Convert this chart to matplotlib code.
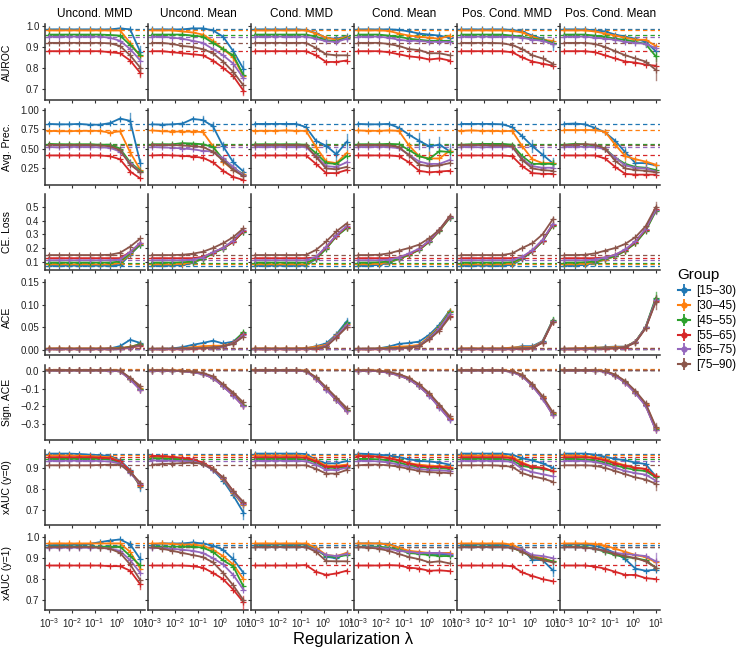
import matplotlib.pyplot as plt
from matplotlib.lines import Line2D
from matplotlib.ticker import NullLocator

plt.rcParams['font.family'] = ['Liberation Sans', 'DejaVu Sans']

lam = [0.001, 0.00278, 0.00774, 0.0215, 0.0599, 0.167, 0.464, 1.29, 3.59, 10.0]
methods = ['Uncond. MMD', 'Uncond. Mean', 'Cond. MMD', 'Cond. Mean', 'Pos. Cond. MMD', 'Pos. Cond. Mean']
groups = ['[15\u201330)', '[30\u201345)', '[45\u201355)', '[55\u201365)', '[65\u201375)', '[75\u201390)']
colors = ['#1f77b4', '#ff7f0e', '#2ca02c', '#d62728', '#9467bd', '#8c564b']
metric_labels = ['AUROC', 'Avg. Prec.', 'CE. Loss', 'ACE', 'Sign. ACE', 'xAUC (y=0)', 'xAUC (y=1)']

# order of groups in every panel: blue, orange, green, red, purple, brown
auroc = [
    [[0.985, 0.985, 0.985, 0.985, 0.985, 0.985, 0.985, 0.99, 0.985, 0.876],
     [0.98, 0.98, 0.98, 0.98, 0.98, 0.98, 0.98, 0.98, 0.92, 0.855],
     [0.96, 0.96, 0.96, 0.96, 0.96, 0.96, 0.958, 0.955, 0.91, 0.86],
     [0.88, 0.88, 0.88, 0.88, 0.88, 0.88, 0.875, 0.87, 0.835, 0.775],
     [0.95, 0.95, 0.95, 0.95, 0.95, 0.95, 0.945, 0.93, 0.89, 0.835],
     [0.92, 0.92, 0.92, 0.92, 0.92, 0.92, 0.918, 0.905, 0.86, 0.80]],
    [[0.985, 0.985, 0.985, 0.985, 0.99, 0.99, 0.98, 0.95, 0.88, 0.795],
     [0.98, 0.98, 0.98, 0.975, 0.97, 0.96, 0.93, 0.89, 0.85, 0.76],
     [0.96, 0.96, 0.96, 0.96, 0.955, 0.95, 0.92, 0.89, 0.86, 0.765],
     [0.88, 0.88, 0.875, 0.87, 0.865, 0.86, 0.835, 0.80, 0.76, 0.69],
     [0.95, 0.95, 0.945, 0.94, 0.93, 0.92, 0.89, 0.86, 0.82, 0.75],
     [0.92, 0.92, 0.915, 0.905, 0.90, 0.89, 0.87, 0.83, 0.78, 0.715]],
    [[0.985, 0.985, 0.985, 0.985, 0.985, 0.983, 0.967, 0.944, 0.94, 0.952],
     [0.98, 0.98, 0.98, 0.98, 0.98, 0.98, 0.965, 0.945, 0.935, 0.95],
     [0.96, 0.96, 0.96, 0.96, 0.96, 0.96, 0.95, 0.932, 0.928, 0.945],
     [0.88, 0.88, 0.88, 0.88, 0.88, 0.88, 0.86, 0.828, 0.828, 0.835],
     [0.95, 0.95, 0.95, 0.95, 0.95, 0.95, 0.94, 0.928, 0.924, 0.94],
     [0.92, 0.92, 0.92, 0.92, 0.92, 0.92, 0.895, 0.865, 0.86, 0.86]],
    [[0.985, 0.985, 0.985, 0.985, 0.983, 0.975, 0.965, 0.96, 0.955, 0.945],
     [0.98, 0.98, 0.98, 0.978, 0.965, 0.955, 0.95, 0.945, 0.94, 0.955],
     [0.96, 0.96, 0.96, 0.955, 0.95, 0.94, 0.935, 0.93, 0.93, 0.93],
     [0.88, 0.88, 0.88, 0.875, 0.865, 0.855, 0.85, 0.84, 0.845, 0.835],
     [0.95, 0.95, 0.95, 0.945, 0.935, 0.93, 0.93, 0.925, 0.925, 0.925],
     [0.92, 0.92, 0.92, 0.915, 0.905, 0.89, 0.885, 0.87, 0.87, 0.86]],
    [[0.985, 0.985, 0.985, 0.985, 0.985, 0.983, 0.975, 0.955, 0.94, 0.915],
     [0.98, 0.98, 0.98, 0.98, 0.98, 0.978, 0.97, 0.95, 0.935, 0.93],
     [0.96, 0.96, 0.96, 0.96, 0.96, 0.955, 0.95, 0.94, 0.935, 0.92],
     [0.88, 0.88, 0.88, 0.88, 0.88, 0.875, 0.85, 0.83, 0.82, 0.81],
     [0.95, 0.95, 0.95, 0.95, 0.95, 0.948, 0.945, 0.935, 0.93, 0.915],
     [0.92, 0.92, 0.92, 0.92, 0.918, 0.91, 0.89, 0.86, 0.845, 0.82]],
    [[0.985, 0.985, 0.985, 0.98, 0.975, 0.96, 0.95, 0.94, 0.925, 0.88],
     [0.98, 0.98, 0.98, 0.975, 0.965, 0.955, 0.945, 0.935, 0.935, 0.905],
     [0.96, 0.96, 0.96, 0.955, 0.95, 0.94, 0.935, 0.925, 0.915, 0.855],
     [0.88, 0.88, 0.88, 0.875, 0.86, 0.845, 0.83, 0.825, 0.815, 0.81],
     [0.95, 0.95, 0.95, 0.945, 0.94, 0.935, 0.925, 0.92, 0.915, 0.895],
     [0.92, 0.92, 0.92, 0.915, 0.90, 0.88, 0.86, 0.845, 0.83, 0.79]],
]

avg_prec = [
    [[0.82, 0.815, 0.815, 0.82, 0.81, 0.81, 0.83, 0.89, 0.86, 0.31],
     [0.73, 0.725, 0.725, 0.73, 0.73, 0.73, 0.705, 0.725, 0.45, 0.22],
     [0.56, 0.555, 0.555, 0.555, 0.555, 0.55, 0.55, 0.50, 0.32, 0.21],
     [0.41, 0.41, 0.41, 0.41, 0.41, 0.41, 0.40, 0.36, 0.20, 0.11],
     [0.52, 0.515, 0.52, 0.52, 0.52, 0.515, 0.51, 0.46, 0.31, 0.19],
     [0.55, 0.545, 0.545, 0.545, 0.545, 0.54, 0.53, 0.48, 0.29, 0.19]],
    [[0.815, 0.81, 0.815, 0.825, 0.885, 0.87, 0.79, 0.53, 0.32, 0.20],
     [0.735, 0.725, 0.72, 0.72, 0.72, 0.715, 0.53, 0.33, 0.22, 0.17],
     [0.555, 0.555, 0.555, 0.57, 0.565, 0.555, 0.52, 0.36, 0.25, 0.16],
     [0.41, 0.415, 0.41, 0.405, 0.395, 0.38, 0.32, 0.21, 0.13, 0.09],
     [0.52, 0.515, 0.51, 0.50, 0.49, 0.47, 0.46, 0.37, 0.26, 0.15],
     [0.55, 0.545, 0.545, 0.54, 0.53, 0.52, 0.46, 0.34, 0.22, 0.14]],
    [[0.82, 0.82, 0.82, 0.82, 0.82, 0.78, 0.60, 0.535, 0.425, 0.585],
     [0.73, 0.73, 0.73, 0.735, 0.73, 0.73, 0.52, 0.33, 0.31, 0.44],
     [0.555, 0.555, 0.555, 0.555, 0.555, 0.55, 0.44, 0.31, 0.30, 0.40],
     [0.41, 0.41, 0.41, 0.41, 0.41, 0.41, 0.30, 0.18, 0.18, 0.22],
     [0.52, 0.52, 0.52, 0.52, 0.52, 0.52, 0.40, 0.27, 0.26, 0.32],
     [0.545, 0.545, 0.545, 0.545, 0.545, 0.54, 0.39, 0.24, 0.23, 0.26]],
    [[0.82, 0.815, 0.815, 0.82, 0.77, 0.68, 0.60, 0.53, 0.55, 0.465],
     [0.735, 0.73, 0.73, 0.735, 0.73, 0.54, 0.40, 0.37, 0.37, 0.47],
     [0.555, 0.555, 0.555, 0.56, 0.555, 0.48, 0.40, 0.365, 0.465, 0.455],
     [0.41, 0.41, 0.41, 0.41, 0.40, 0.32, 0.21, 0.19, 0.20, 0.21],
     [0.52, 0.52, 0.52, 0.52, 0.505, 0.42, 0.33, 0.30, 0.30, 0.35],
     [0.545, 0.545, 0.545, 0.54, 0.52, 0.41, 0.29, 0.27, 0.28, 0.31]],
    [[0.82, 0.82, 0.82, 0.82, 0.815, 0.78, 0.66, 0.53, 0.42, 0.31],
     [0.73, 0.735, 0.73, 0.73, 0.725, 0.73, 0.53, 0.36, 0.31, 0.31],
     [0.55, 0.555, 0.56, 0.56, 0.56, 0.55, 0.40, 0.30, 0.30, 0.30],
     [0.41, 0.41, 0.41, 0.41, 0.41, 0.40, 0.27, 0.18, 0.17, 0.17],
     [0.52, 0.52, 0.515, 0.52, 0.52, 0.52, 0.36, 0.27, 0.25, 0.25],
     [0.545, 0.545, 0.545, 0.54, 0.54, 0.53, 0.35, 0.24, 0.22, 0.21]],
    [[0.82, 0.825, 0.815, 0.77, 0.71, 0.60, 0.45, 0.31, 0.31, 0.28],
     [0.74, 0.74, 0.74, 0.74, 0.72, 0.55, 0.40, 0.36, 0.33, 0.29],
     [0.55, 0.56, 0.555, 0.54, 0.50, 0.38, 0.30, 0.26, 0.25, 0.22],
     [0.41, 0.41, 0.41, 0.41, 0.37, 0.26, 0.17, 0.16, 0.16, 0.16],
     [0.52, 0.525, 0.52, 0.52, 0.49, 0.38, 0.28, 0.25, 0.24, 0.20],
     [0.545, 0.55, 0.555, 0.55, 0.50, 0.34, 0.24, 0.22, 0.21, 0.19]],
]

ce_loss = [
    [[0.07, 0.07, 0.07, 0.07, 0.07, 0.07, 0.07, 0.075, 0.15, 0.225],
     [0.08, 0.08, 0.08, 0.08, 0.08, 0.08, 0.08, 0.09, 0.155, 0.23],
     [0.093, 0.093, 0.093, 0.093, 0.093, 0.093, 0.093, 0.10, 0.16, 0.225],
     [0.125, 0.125, 0.125, 0.125, 0.125, 0.125, 0.125, 0.125, 0.17, 0.235],
     [0.11, 0.11, 0.11, 0.11, 0.11, 0.11, 0.11, 0.115, 0.17, 0.24],
     [0.148, 0.148, 0.148, 0.148, 0.148, 0.148, 0.15, 0.165, 0.21, 0.27]],
    [[0.07, 0.07, 0.07, 0.075, 0.09, 0.12, 0.165, 0.20, 0.25, 0.32],
     [0.08, 0.08, 0.08, 0.085, 0.095, 0.12, 0.165, 0.20, 0.25, 0.325],
     [0.093, 0.093, 0.093, 0.095, 0.10, 0.12, 0.16, 0.195, 0.245, 0.32],
     [0.125, 0.125, 0.125, 0.125, 0.125, 0.135, 0.165, 0.20, 0.245, 0.325],
     [0.11, 0.11, 0.11, 0.11, 0.115, 0.13, 0.17, 0.20, 0.255, 0.335],
     [0.148, 0.148, 0.148, 0.15, 0.158, 0.172, 0.20, 0.235, 0.28, 0.345]],
    [[0.07, 0.07, 0.07, 0.07, 0.07, 0.07, 0.12, 0.20, 0.29, 0.35],
     [0.08, 0.08, 0.08, 0.08, 0.08, 0.08, 0.125, 0.20, 0.29, 0.35],
     [0.093, 0.093, 0.093, 0.093, 0.093, 0.093, 0.12, 0.195, 0.285, 0.345],
     [0.125, 0.125, 0.125, 0.125, 0.125, 0.125, 0.13, 0.205, 0.29, 0.355],
     [0.11, 0.11, 0.11, 0.11, 0.11, 0.11, 0.135, 0.21, 0.295, 0.36],
     [0.148, 0.148, 0.148, 0.148, 0.148, 0.149, 0.186, 0.248, 0.322, 0.38]],
    [[0.07, 0.07, 0.075, 0.09, 0.12, 0.15, 0.19, 0.25, 0.33, 0.42],
     [0.08, 0.08, 0.085, 0.095, 0.12, 0.15, 0.19, 0.25, 0.33, 0.425],
     [0.093, 0.093, 0.095, 0.10, 0.12, 0.15, 0.185, 0.245, 0.325, 0.42],
     [0.125, 0.125, 0.125, 0.125, 0.13, 0.155, 0.19, 0.25, 0.33, 0.425],
     [0.11, 0.11, 0.11, 0.115, 0.13, 0.16, 0.195, 0.255, 0.335, 0.43],
     [0.148, 0.148, 0.15, 0.16, 0.18, 0.20, 0.225, 0.272, 0.335, 0.433]],
    [[0.07, 0.07, 0.07, 0.07, 0.07, 0.075, 0.12, 0.175, 0.25, 0.37],
     [0.08, 0.08, 0.08, 0.08, 0.08, 0.085, 0.125, 0.18, 0.255, 0.37],
     [0.093, 0.093, 0.093, 0.093, 0.093, 0.095, 0.125, 0.175, 0.25, 0.365],
     [0.125, 0.125, 0.125, 0.125, 0.125, 0.125, 0.13, 0.18, 0.255, 0.37],
     [0.11, 0.11, 0.11, 0.11, 0.11, 0.11, 0.135, 0.185, 0.26, 0.375],
     [0.148, 0.148, 0.148, 0.148, 0.148, 0.16, 0.20, 0.235, 0.30, 0.41]],
    [[0.07, 0.07, 0.075, 0.09, 0.115, 0.14, 0.18, 0.24, 0.33, 0.48],
     [0.08, 0.08, 0.085, 0.095, 0.115, 0.14, 0.18, 0.24, 0.33, 0.48],
     [0.093, 0.093, 0.095, 0.10, 0.12, 0.14, 0.18, 0.235, 0.325, 0.47],
     [0.125, 0.125, 0.125, 0.125, 0.13, 0.15, 0.185, 0.245, 0.335, 0.485],
     [0.11, 0.11, 0.11, 0.115, 0.13, 0.15, 0.19, 0.25, 0.34, 0.48],
     [0.148, 0.148, 0.15, 0.16, 0.18, 0.20, 0.23, 0.28, 0.36, 0.50]],
]

ace = [
    [[0.003, 0.003, 0.003, 0.003, 0.003, 0.003, 0.004, 0.009, 0.023, 0.016],
     [0.004, 0.004, 0.004, 0.004, 0.004, 0.004, 0.004, 0.005, 0.008, 0.013],
     [0.003, 0.003, 0.003, 0.003, 0.003, 0.003, 0.003, 0.004, 0.007, 0.014],
     [0.002, 0.002, 0.002, 0.002, 0.002, 0.002, 0.002, 0.003, 0.005, 0.010],
     [0.003, 0.003, 0.003, 0.003, 0.003, 0.003, 0.003, 0.003, 0.006, 0.011],
     [0.004, 0.004, 0.004, 0.004, 0.004, 0.004, 0.004, 0.004, 0.007, 0.012]],
    [[0.003, 0.003, 0.004, 0.007, 0.012, 0.016, 0.021, 0.015, 0.019, 0.038],
     [0.003, 0.003, 0.003, 0.004, 0.007, 0.009, 0.010, 0.010, 0.016, 0.036],
     [0.003, 0.003, 0.003, 0.003, 0.004, 0.005, 0.006, 0.008, 0.017, 0.040],
     [0.002, 0.002, 0.002, 0.002, 0.003, 0.004, 0.005, 0.008, 0.016, 0.035],
     [0.003, 0.003, 0.003, 0.003, 0.004, 0.005, 0.006, 0.008, 0.015, 0.034],
     [0.004, 0.004, 0.004, 0.004, 0.004, 0.005, 0.006, 0.009, 0.014, 0.030]],
    [[0.003, 0.003, 0.003, 0.003, 0.003, 0.004, 0.009, 0.015, 0.035, 0.063],
     [0.004, 0.004, 0.004, 0.004, 0.004, 0.005, 0.008, 0.012, 0.033, 0.058],
     [0.003, 0.003, 0.003, 0.003, 0.003, 0.003, 0.004, 0.010, 0.032, 0.060],
     [0.002, 0.002, 0.002, 0.002, 0.002, 0.002, 0.003, 0.009, 0.030, 0.052],
     [0.003, 0.003, 0.003, 0.003, 0.003, 0.003, 0.004, 0.010, 0.031, 0.056],
     [0.004, 0.004, 0.004, 0.004, 0.004, 0.004, 0.004, 0.008, 0.028, 0.050]],
    [[0.003, 0.003, 0.004, 0.008, 0.014, 0.016, 0.019, 0.034, 0.056, 0.087],
     [0.003, 0.003, 0.004, 0.006, 0.008, 0.009, 0.012, 0.030, 0.052, 0.085],
     [0.003, 0.003, 0.003, 0.004, 0.005, 0.006, 0.010, 0.028, 0.050, 0.083],
     [0.002, 0.002, 0.002, 0.003, 0.004, 0.005, 0.009, 0.025, 0.046, 0.075],
     [0.003, 0.003, 0.003, 0.003, 0.004, 0.006, 0.010, 0.027, 0.048, 0.080],
     [0.004, 0.004, 0.004, 0.004, 0.005, 0.006, 0.009, 0.024, 0.043, 0.072]],
    [[0.003, 0.003, 0.003, 0.003, 0.003, 0.005, 0.009, 0.009, 0.020, 0.065],
     [0.004, 0.004, 0.004, 0.004, 0.004, 0.006, 0.007, 0.007, 0.019, 0.064],
     [0.003, 0.003, 0.003, 0.003, 0.003, 0.003, 0.004, 0.005, 0.018, 0.066],
     [0.002, 0.002, 0.002, 0.002, 0.002, 0.002, 0.003, 0.004, 0.017, 0.062],
     [0.003, 0.003, 0.003, 0.003, 0.003, 0.003, 0.004, 0.005, 0.018, 0.064],
     [0.004, 0.004, 0.004, 0.004, 0.004, 0.004, 0.004, 0.005, 0.017, 0.063]],
    [[0.003, 0.003, 0.004, 0.005, 0.007, 0.008, 0.008, 0.019, 0.050, 0.112],
     [0.003, 0.004, 0.005, 0.006, 0.006, 0.007, 0.008, 0.019, 0.050, 0.110],
     [0.003, 0.003, 0.003, 0.004, 0.004, 0.005, 0.007, 0.019, 0.051, 0.115],
     [0.002, 0.002, 0.002, 0.003, 0.003, 0.004, 0.006, 0.018, 0.049, 0.108],
     [0.003, 0.003, 0.003, 0.003, 0.004, 0.005, 0.007, 0.018, 0.050, 0.110],
     [0.004, 0.004, 0.004, 0.004, 0.004, 0.005, 0.007, 0.017, 0.048, 0.106]],
]

sign_ace = [
    [[0.004, 0.004, 0.004, 0.004, 0.004, 0.004, 0.003, 0.0, -0.045, -0.10],
     [0.006, 0.006, 0.006, 0.006, 0.006, 0.006, 0.005, 0.002, -0.043, -0.095],
     [0.003, 0.003, 0.003, 0.003, 0.003, 0.003, 0.002, 0.0, -0.045, -0.10],
     [0.003, 0.003, 0.003, 0.003, 0.003, 0.003, 0.002, -0.001, -0.047, -0.105],
     [0.003, 0.003, 0.003, 0.003, 0.003, 0.003, 0.002, -0.001, -0.048, -0.108],
     [0.005, 0.005, 0.005, 0.005, 0.005, 0.005, 0.005, 0.003, -0.038, -0.085]],
    [[0.003, 0.003, 0.002, 0.0, -0.005, -0.015, -0.037, -0.083, -0.135, -0.195],
     [0.005, 0.005, 0.004, 0.002, -0.003, -0.013, -0.035, -0.08, -0.13, -0.19],
     [0.002, 0.002, 0.001, -0.001, -0.006, -0.016, -0.038, -0.085, -0.135, -0.195],
     [0.002, 0.002, 0.001, -0.001, -0.006, -0.017, -0.04, -0.086, -0.137, -0.20],
     [0.002, 0.002, 0.001, -0.001, -0.007, -0.018, -0.04, -0.087, -0.14, -0.20],
     [0.004, 0.004, 0.003, 0.001, -0.003, -0.011, -0.03, -0.075, -0.122, -0.178]],
    [[0.004, 0.004, 0.004, 0.004, 0.004, 0.0, -0.04, -0.10, -0.16, -0.22],
     [0.006, 0.006, 0.006, 0.006, 0.006, 0.002, -0.038, -0.098, -0.158, -0.218],
     [0.003, 0.003, 0.003, 0.003, 0.003, -0.001, -0.042, -0.102, -0.162, -0.222],
     [0.003, 0.003, 0.003, 0.003, 0.003, -0.001, -0.043, -0.104, -0.165, -0.226],
     [0.003, 0.003, 0.003, 0.003, 0.003, -0.002, -0.044, -0.105, -0.166, -0.228],
     [0.005, 0.005, 0.005, 0.005, 0.005, 0.002, -0.035, -0.092, -0.15, -0.208]],
    [[0.003, 0.003, 0.0, -0.008, -0.022, -0.044, -0.083, -0.135, -0.20, -0.268],
     [0.005, 0.005, 0.002, -0.006, -0.02, -0.042, -0.08, -0.132, -0.198, -0.265],
     [0.002, 0.002, -0.001, -0.009, -0.024, -0.046, -0.085, -0.137, -0.203, -0.27],
     [0.002, 0.002, -0.001, -0.01, -0.025, -0.047, -0.086, -0.138, -0.205, -0.272],
     [0.002, 0.002, -0.001, -0.01, -0.025, -0.047, -0.087, -0.14, -0.207, -0.275],
     [0.004, 0.004, 0.002, -0.005, -0.018, -0.038, -0.075, -0.125, -0.19, -0.255]],
    [[0.004, 0.004, 0.004, 0.004, 0.004, -0.004, -0.025, -0.08, -0.15, -0.24],
     [0.006, 0.006, 0.006, 0.006, 0.006, -0.001, -0.022, -0.077, -0.147, -0.236],
     [0.003, 0.003, 0.003, 0.003, 0.003, -0.005, -0.027, -0.082, -0.152, -0.243],
     [0.003, 0.003, 0.003, 0.003, 0.003, -0.005, -0.028, -0.083, -0.154, -0.246],
     [0.003, 0.003, 0.003, 0.003, 0.003, -0.006, -0.029, -0.085, -0.156, -0.248],
     [0.005, 0.005, 0.005, 0.005, 0.005, -0.002, -0.022, -0.074, -0.142, -0.232]],
    [[0.004, 0.004, 0.004, 0.003, -0.002, -0.025, -0.063, -0.12, -0.19, -0.325],
     [0.006, 0.006, 0.006, 0.005, 0.0, -0.022, -0.06, -0.117, -0.187, -0.32],
     [0.003, 0.003, 0.003, 0.002, -0.003, -0.026, -0.065, -0.122, -0.193, -0.33],
     [0.003, 0.003, 0.003, 0.002, -0.003, -0.027, -0.066, -0.124, -0.195, -0.332],
     [0.003, 0.003, 0.003, 0.002, -0.004, -0.028, -0.067, -0.126, -0.197, -0.335],
     [0.005, 0.005, 0.005, 0.004, 0.0, -0.02, -0.057, -0.113, -0.182, -0.315]],
]

xauc0 = [
    [[0.967, 0.967, 0.967, 0.965, 0.962, 0.96, 0.955, 0.935, 0.89, 0.81],
     [0.958, 0.958, 0.958, 0.957, 0.955, 0.953, 0.95, 0.93, 0.885, 0.815],
     [0.942, 0.942, 0.942, 0.942, 0.942, 0.942, 0.94, 0.925, 0.88, 0.82],
     [0.95, 0.95, 0.95, 0.95, 0.95, 0.948, 0.945, 0.93, 0.885, 0.82],
     [0.933, 0.933, 0.933, 0.933, 0.933, 0.932, 0.93, 0.92, 0.875, 0.825],
     [0.912, 0.912, 0.912, 0.912, 0.912, 0.913, 0.915, 0.915, 0.88, 0.83]],
    [[0.948, 0.945, 0.942, 0.94, 0.935, 0.92, 0.89, 0.84, 0.77, 0.69],
     [0.952, 0.95, 0.948, 0.944, 0.937, 0.922, 0.893, 0.848, 0.782, 0.725],
     [0.945, 0.944, 0.942, 0.94, 0.935, 0.922, 0.893, 0.85, 0.785, 0.728],
     [0.957, 0.955, 0.952, 0.947, 0.94, 0.925, 0.896, 0.853, 0.79, 0.735],
     [0.935, 0.934, 0.933, 0.932, 0.93, 0.918, 0.89, 0.85, 0.785, 0.73],
     [0.915, 0.918, 0.92, 0.922, 0.925, 0.918, 0.893, 0.855, 0.79, 0.74]],
    [[0.967, 0.967, 0.967, 0.967, 0.967, 0.965, 0.937, 0.921, 0.921, 0.932],
     [0.958, 0.958, 0.958, 0.958, 0.958, 0.956, 0.935, 0.91, 0.91, 0.915],
     [0.942, 0.942, 0.942, 0.942, 0.942, 0.94, 0.925, 0.90, 0.90, 0.905],
     [0.95, 0.95, 0.95, 0.95, 0.95, 0.948, 0.93, 0.905, 0.905, 0.91],
     [0.933, 0.933, 0.933, 0.933, 0.933, 0.931, 0.915, 0.89, 0.89, 0.90],
     [0.912, 0.912, 0.912, 0.912, 0.912, 0.912, 0.895, 0.873, 0.873, 0.89]],
    [[0.967, 0.965, 0.962, 0.958, 0.95, 0.94, 0.933, 0.93, 0.925, 0.915],
     [0.958, 0.956, 0.953, 0.947, 0.937, 0.922, 0.915, 0.91, 0.908, 0.905],
     [0.942, 0.942, 0.94, 0.935, 0.925, 0.912, 0.905, 0.90, 0.898, 0.895],
     [0.955, 0.955, 0.952, 0.945, 0.935, 0.92, 0.91, 0.905, 0.905, 0.90],
     [0.933, 0.933, 0.93, 0.925, 0.915, 0.905, 0.895, 0.89, 0.888, 0.885],
     [0.912, 0.915, 0.915, 0.912, 0.905, 0.895, 0.885, 0.88, 0.878, 0.875]],
    [[0.967, 0.967, 0.967, 0.967, 0.967, 0.962, 0.945, 0.935, 0.921, 0.90],
     [0.958, 0.958, 0.958, 0.958, 0.958, 0.952, 0.925, 0.905, 0.90, 0.885],
     [0.942, 0.942, 0.942, 0.942, 0.942, 0.935, 0.91, 0.90, 0.895, 0.885],
     [0.95, 0.95, 0.95, 0.95, 0.95, 0.945, 0.92, 0.905, 0.90, 0.885],
     [0.933, 0.933, 0.933, 0.933, 0.933, 0.928, 0.895, 0.88, 0.87, 0.86],
     [0.912, 0.912, 0.912, 0.912, 0.91, 0.905, 0.875, 0.86, 0.85, 0.835]],
    [[0.967, 0.967, 0.967, 0.962, 0.952, 0.942, 0.935, 0.925, 0.918, 0.86],
     [0.958, 0.958, 0.955, 0.95, 0.94, 0.925, 0.912, 0.90, 0.895, 0.86],
     [0.942, 0.942, 0.94, 0.935, 0.925, 0.912, 0.90, 0.89, 0.885, 0.855],
     [0.95, 0.95, 0.95, 0.945, 0.935, 0.92, 0.91, 0.90, 0.895, 0.86],
     [0.933, 0.933, 0.932, 0.928, 0.917, 0.90, 0.885, 0.875, 0.868, 0.84],
     [0.912, 0.912, 0.912, 0.91, 0.90, 0.885, 0.87, 0.855, 0.845, 0.825]],
]

xauc1 = [
    [[0.962, 0.963, 0.963, 0.965, 0.968, 0.976, 0.984, 0.989, 0.966, 0.895],
     [0.97, 0.97, 0.97, 0.97, 0.97, 0.97, 0.97, 0.97, 0.93, 0.85],
     [0.955, 0.955, 0.955, 0.955, 0.955, 0.955, 0.955, 0.955, 0.91, 0.865],
     [0.865, 0.865, 0.865, 0.865, 0.865, 0.865, 0.862, 0.862, 0.84, 0.775],
     [0.95, 0.95, 0.95, 0.95, 0.95, 0.95, 0.945, 0.935, 0.89, 0.83],
     [0.953, 0.953, 0.953, 0.953, 0.953, 0.95, 0.945, 0.925, 0.87, 0.795]],
    [[0.965, 0.97, 0.97, 0.97, 0.975, 0.97, 0.96, 0.94, 0.895, 0.83],
     [0.97, 0.97, 0.968, 0.965, 0.965, 0.96, 0.94, 0.91, 0.87, 0.80],
     [0.955, 0.955, 0.955, 0.955, 0.955, 0.95, 0.93, 0.89, 0.86, 0.765],
     [0.865, 0.865, 0.865, 0.865, 0.862, 0.855, 0.83, 0.80, 0.75, 0.69],
     [0.95, 0.948, 0.945, 0.94, 0.935, 0.925, 0.90, 0.87, 0.82, 0.75],
     [0.952, 0.945, 0.935, 0.925, 0.915, 0.905, 0.88, 0.83, 0.77, 0.70]],
    [[0.965, 0.965, 0.965, 0.965, 0.965, 0.965, 0.947, 0.907, 0.899, 0.923],
     [0.97, 0.97, 0.97, 0.97, 0.97, 0.97, 0.95, 0.915, 0.91, 0.925],
     [0.955, 0.955, 0.955, 0.955, 0.955, 0.955, 0.94, 0.91, 0.905, 0.915],
     [0.865, 0.865, 0.865, 0.865, 0.865, 0.867, 0.835, 0.82, 0.827, 0.84],
     [0.952, 0.952, 0.952, 0.952, 0.952, 0.952, 0.94, 0.915, 0.91, 0.92],
     [0.953, 0.953, 0.953, 0.953, 0.953, 0.953, 0.93, 0.886, 0.885, 0.885]],
    [[0.97, 0.97, 0.97, 0.968, 0.95, 0.93, 0.925, 0.92, 0.92, 0.915],
     [0.97, 0.97, 0.97, 0.965, 0.95, 0.935, 0.93, 0.925, 0.925, 0.925],
     [0.955, 0.955, 0.955, 0.95, 0.94, 0.925, 0.92, 0.915, 0.91, 0.91],
     [0.865, 0.865, 0.865, 0.867, 0.865, 0.855, 0.85, 0.84, 0.842, 0.838],
     [0.952, 0.952, 0.95, 0.945, 0.935, 0.93, 0.925, 0.925, 0.925, 0.92],
     [0.953, 0.95, 0.945, 0.935, 0.92, 0.905, 0.895, 0.88, 0.885, 0.875]],
    [[0.965, 0.965, 0.965, 0.965, 0.965, 0.96, 0.945, 0.891, 0.891, 0.843],
     [0.97, 0.97, 0.97, 0.97, 0.97, 0.965, 0.94, 0.91, 0.90, 0.885],
     [0.955, 0.955, 0.955, 0.955, 0.955, 0.95, 0.93, 0.905, 0.895, 0.885],
     [0.865, 0.865, 0.865, 0.865, 0.865, 0.862, 0.832, 0.815, 0.80, 0.79],
     [0.952, 0.952, 0.952, 0.952, 0.952, 0.95, 0.94, 0.915, 0.91, 0.90],
     [0.953, 0.953, 0.953, 0.953, 0.953, 0.95, 0.93, 0.905, 0.89, 0.88]],
    [[0.965, 0.967, 0.965, 0.96, 0.945, 0.925, 0.895, 0.85, 0.84, 0.845],
     [0.97, 0.97, 0.97, 0.968, 0.96, 0.945, 0.93, 0.915, 0.905, 0.88],
     [0.955, 0.955, 0.955, 0.945, 0.93, 0.915, 0.905, 0.90, 0.89, 0.855],
     [0.865, 0.865, 0.865, 0.86, 0.85, 0.835, 0.82, 0.82, 0.805, 0.80],
     [0.952, 0.952, 0.95, 0.945, 0.935, 0.925, 0.92, 0.915, 0.91, 0.885],
     [0.953, 0.953, 0.95, 0.945, 0.935, 0.92, 0.91, 0.90, 0.885, 0.855]],
]

# unregularized reference per group (dashed lines)
base_auroc = [0.986, 0.98, 0.96, 0.88, 0.95, 0.92]
base_avg_prec = [0.82, 0.74, 0.565, 0.415, 0.525, 0.545]
base_ce = [0.07, 0.08, 0.093, 0.125, 0.11, 0.148]
base_ace = [0.003, 0.004, 0.003, 0.002, 0.003, 0.004]
base_sign_ace = [0.006, 0.010, 0.005, 0.005, 0.006, 0.008]
base_xauc0 = [0.967, 0.958, 0.942, 0.95, 0.933, 0.912]
base_xauc1 = [0.965, 0.97, 0.955, 0.865, 0.952, 0.953]

# visible error bars: (metric row, method col, group, lambda index, half width)
errors = [
    (0, 0, 0, 9, 0.03), (0, 0, 3, 9, 0.02), (0, 0, 5, 9, 0.02), (0, 1, 0, 9, 0.04),
    (0, 1, 5, 8, 0.03), (0, 1, 3, 9, 0.02), (0, 1, 1, 8, 0.02), (0, 4, 0, 9, 0.03),
    (0, 5, 5, 9, 0.05), (0, 5, 0, 8, 0.025), (0, 5, 2, 9, 0.02), (0, 2, 0, 8, 0.015),
    (0, 3, 0, 8, 0.015),
    (1, 0, 0, 8, 0.10), (1, 0, 0, 9, 0.05), (1, 0, 1, 8, 0.05), (1, 1, 0, 5, 0.05),
    (1, 1, 0, 6, 0.06), (1, 1, 0, 7, 0.05), (1, 1, 0, 8, 0.06), (1, 1, 0, 9, 0.04),
    (1, 1, 1, 7, 0.05), (1, 2, 0, 7, 0.08), (1, 2, 0, 8, 0.07), (1, 2, 0, 9, 0.10),
    (1, 2, 1, 7, 0.05), (1, 3, 0, 6, 0.10), (1, 3, 0, 7, 0.10), (1, 3, 0, 8, 0.10),
    (1, 3, 0, 9, 0.10), (1, 3, 1, 7, 0.08), (1, 4, 0, 7, 0.08), (1, 4, 0, 8, 0.08),
    (1, 4, 0, 9, 0.06), (1, 4, 2, 9, 0.05), (1, 5, 0, 6, 0.07), (1, 5, 0, 7, 0.07),
    (1, 5, 1, 6, 0.05),
    (2, 5, 5, 9, 0.04), (2, 5, 4, 9, 0.03), (2, 4, 5, 9, 0.02),
    (3, 2, 0, 9, 0.008), (3, 5, 2, 9, 0.012), (3, 5, 5, 9, 0.015), (3, 4, 2, 9, 0.008),
    (4, 5, 5, 9, 0.02),
    (5, 0, 0, 9, 0.02), (5, 1, 0, 9, 0.03), (5, 5, 5, 9, 0.03), (5, 5, 0, 7, 0.02),
    (6, 0, 0, 9, 0.03), (6, 0, 3, 9, 0.02), (6, 0, 0, 8, 0.015), (6, 1, 0, 8, 0.03),
    (6, 1, 3, 9, 0.03), (6, 4, 0, 9, 0.03), (6, 5, 0, 7, 0.03), (6, 5, 4, 9, 0.04),
]

ytick_vals = [
    [0.7, 0.8, 0.9, 1.0], [0.25, 0.5, 0.75, 1.0], [0.1, 0.2, 0.3, 0.4, 0.5],
    [0.0, 0.05, 0.10, 0.15], [-0.3, -0.2, -0.1, 0.0], [0.7, 0.8, 0.9], [0.7, 0.8, 0.9, 1.0],
]
ytick_text = [
    ['0.7', '0.8', '0.9', '1.0'], ['0.25', '0.50', '0.75', '1.00'],
    ['0.1', '0.2', '0.3', '0.4', '0.5'], ['0.00', '0.05', '0.10', '0.15'],
    ['\u22120.3', '\u22120.2', '\u22120.1', '0.0'], ['0.7', '0.8', '0.9'],
    ['0.7', '0.8', '0.9', '1.0'],
]
ylims = [(0.647, 1.01), (0.03, 1.01), (0.04, 0.594), (-0.01, 0.155),
         (-0.39, 0.036), (0.631, 0.985), (0.652, 1.011)]

all_vals = [auroc, avg_prec, ce_loss, ace, sign_ace, xauc0, xauc1]
all_base = [base_auroc, base_avg_prec, base_ce, base_ace, base_sign_ace, base_xauc0, base_xauc1]

axis_col = '#333333'
fig = plt.figure(figsize=(7.47, 6.54), dpi=100)
axes = fig.subplots(7, 6, sharex=True, sharey='row')
fig.subplots_adjust(left=0.060, right=0.884, bottom=0.067, top=0.963, wspace=0.03, hspace=0.13)

for r in range(7):
    for c in range(6):
        ax = axes[r, c]
        for g in range(6):
            ax.axhline(all_base[r][g], color=colors[g], ls=(0, (3.5, 2.5)), lw=0.9, zorder=1)
        for g in range(6):
            ax.plot(lam, all_vals[r][c][g], color=colors[g], lw=1.3, marker='+',
                    ms=4.5, mew=0.9, zorder=2 + g)
        ax.set_xscale('log')
        ax.set_xlim(10 ** -3.18, 10 ** 1.2)
        ax.xaxis.set_minor_locator(NullLocator())
        ax.set_xticks([1e-3, 1e-2, 1e-1, 1e0, 1e1])
        ax.set_ylim(*ylims[r])
        ax.set_yticks(ytick_vals[r], ytick_text[r])
        for side in ['top', 'right']:
            ax.spines[side].set_visible(False)
        for side in ['left', 'bottom']:
            ax.spines[side].set_color(axis_col)
            ax.spines[side].set_linewidth(1.1)
        ax.tick_params(colors=axis_col, labelcolor='#222222', labelsize=7,
                       length=2.5, width=0.8, pad=1.5)
        if r == 0:
            ax.set_title(methods[c], fontsize=8.5, pad=5)
    axes[r, 0].set_ylabel(metric_labels[r], fontsize=7.5)
    axes[r, 0].yaxis.set_label_coords(-0.33, 0.5)

for r, c, g, i, e in errors:
    y = all_vals[r][c][g][i]
    axes[r, c].plot([lam[i], lam[i]], [y - e, y + e], color=colors[g], lw=1.0,
                    alpha=0.7, zorder=2 + g)

fig.text(0.472, 0.022, 'Regularization \u03bb', ha='center', va='center', fontsize=12)

handles = [(Line2D([], [], color=col, lw=1.5, marker='o', ms=3.5),
            Line2D([], [], color=col, ls='none', marker='|', ms=9, mew=1.3))
           for col in colors]
leg = fig.legend(handles, groups, loc='upper left', bbox_to_anchor=(0.893, 0.606),
                 title='Group', frameon=False, fontsize=8.5, title_fontsize=11,
                 handlelength=1.0, handletextpad=0.6, labelspacing=0.24,
                 alignment='left')

fig.savefig('out.png', dpi=100)
